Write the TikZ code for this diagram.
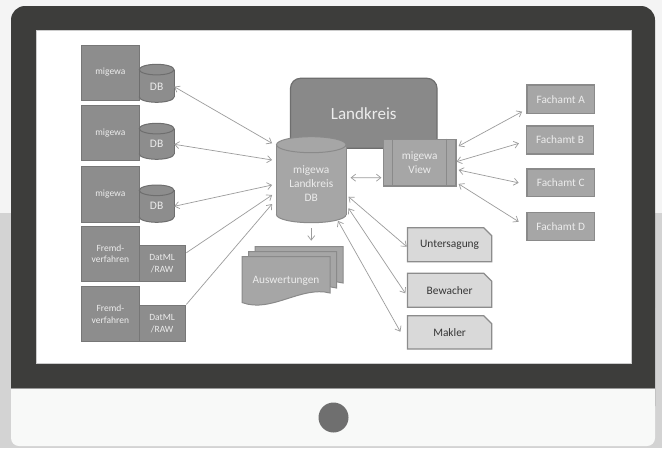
\documentclass[tikz,border=0pt]{standalone}
\usepackage{fontspec}
\setmainfont{Carlito}
\usetikzlibrary{arrows.meta,calc,shapes.misc}

\definecolor{bgtop}{HTML}{F4F4F4}
\definecolor{bgbot}{HTML}{D3D3D3}
\definecolor{frame}{HTML}{3D3D3B}
\definecolor{chin}{HTML}{F8F9F8}
\definecolor{dot}{HTML}{6F6F6F}
\definecolor{darkfill}{HTML}{8D8D8D}
\definecolor{darkbd}{HTML}{777777}
\definecolor{cylbd}{HTML}{6E6E6E}
\definecolor{midfill}{HTML}{A6A6A6}
\definecolor{midbd}{HTML}{8A8A8A}
\definecolor{lkfill}{HTML}{898989}
\definecolor{lkbd}{HTML}{6E6E6E}
\definecolor{snipfill}{HTML}{D9D9D9}
\definecolor{snipbd}{HTML}{8C8C8C}
\definecolor{lighttxt}{HTML}{ECECEC}
\definecolor{darktxt}{HTML}{363636}
\definecolor{linec}{HTML}{9C9C9C}

\newcommand\mycyl[7]{%
  \filldraw[fill=#6,draw=#7,line width=1pt] (#1,#3-#5) ellipse [x radius=#4, y radius=#5];
  \fill[#6] (#1-#4,#2+#5) rectangle (#1+#4,#3-#5);
  \draw[#7,line width=1pt] (#1-#4,#2+#5) -- (#1-#4,#3-#5) (#1+#4,#2+#5) -- (#1+#4,#3-#5);
  \filldraw[fill=#6,draw=#7,line width=1pt] (#1,#2+#5) ellipse [x radius=#4, y radius=#5];
}
\newcommand\mydoc[2]{%
  \filldraw[fill=midfill,draw=midbd,line width=1pt] (#1,#2) -- (#1+88,#2) -- (#1+88,#2+36.5)
    .. controls (#1+59,#2+29) and (#1+29,#2+57) .. (#1,#2+46) -- cycle;
}

\tikzset{
  tip/.tip={Straight Barb[length=4.5pt,width=7pt]},
  arr/.style={draw=linec, line width=0.7pt, tip-tip},
  arrone/.style={draw=linec, line width=0.7pt, -tip},
  darkbox/.style={draw=darkbd, fill=darkfill, line width=1pt, text=lighttxt, align=center,
    inner sep=0pt, font=\fontsize{9.5}{11.6}\selectfont},
  midbox/.style={draw=midbd, fill=midfill, line width=1.2pt, text=lighttxt, align=center,
    inner sep=0pt, font=\fontsize{11.3}{14}\selectfont},
  snipbox/.style={chamfered rectangle, chamfered rectangle corners=north east,
    chamfered rectangle xsep=4pt, chamfered rectangle ysep=4pt, draw=snipbd, fill=snipfill,
    line width=1.2pt, text=darktxt, inner sep=0pt, minimum width=84.4, minimum height=34,
    font=\fontsize{11.4}{13}\selectfont},
  txt/.style={inner sep=0pt, align=center, text=lighttxt},
}

\begin{document}
\begin{tikzpicture}[x=1pt,y=-1pt]
\useasboundingbox (0,0) rectangle (662,448);
% background
\fill[bgtop] (0,0) rectangle (662,213);
\fill[bgbot] (0,213) rectangle (662,448);
% monitor
\fill[chin, rounded corners=8pt] (11,300) rectangle (655,446);
\fill[frame, rounded corners=14pt] (11,6) rectangle (655,420);
\fill[chin] (11,388.5) rectangle (655,426);
\draw[draw=gray!80, line width=0.6pt] (11,388.5) -- (655,388.5);
\fill[dot] (333.5,417.5) circle [radius=15];
\draw[draw=black!20, fill=white, line width=0.6pt] (36,30) rectangle (631,363);

% left column
\node[darkbox, minimum width=57.8, minimum height=55] (mg1) at (110.4,72.5) {migewa};
\node[darkbox, minimum width=57.8, minimum height=55.7] (mg2) at (110.4,132.85) {migewa};
\node[darkbox, minimum width=57.8, minimum height=55.3] (mg3) at (110.4,194.35) {migewa};
\node[darkbox, minimum width=57.8, minimum height=55.7] (fr1) at (110.4,253.85) {Fremd-\\verfahren};
\node[darkbox, minimum width=57.8, minimum height=55] (fr2) at (110.4,314.2) {Fremd-\\verfahren};
\node[darkbox, minimum width=45.7, minimum height=36.7] (dm1) at (162.15,263.35) {DatML\\/RAW};
\node[darkbox, minimum width=45.7, minimum height=36.7] (dm2) at (162.15,323.35) {DatML\\/RAW};

\mycyl{156.65}{64.3}{102.3}{17.35}{5.3}{darkfill}{cylbd}
\mycyl{156.65}{123.3}{159.3}{17.35}{5.3}{darkfill}{cylbd}
\mycyl{156.65}{185}{222.3}{17.35}{5.3}{darkfill}{cylbd}
\node[txt, font=\fontsize{11.5}{13}\selectfont, minimum width=34.7] (db1) at (156.65,86.7) {DB};
\node[txt, font=\fontsize{11.5}{13}\selectfont, minimum width=34.7] (db2) at (156.65,144.3) {DB};
\node[txt, font=\fontsize{11.5}{13}\selectfont, minimum width=34.7] (db3) at (156.65,206.3) {DB};

% Landkreis
\node[draw=lkbd, fill=lkfill, line width=1.2pt, rounded corners=10pt, minimum width=146.5,
  minimum height=70, text=lighttxt, font=\fontsize{17}{20}\selectfont] (lk) at (363.75,113.3) {Landkreis};

% central DB
\mycyl{311.25}{136.7}{222.7}{34.75}{8}{midfill}{midbd}
\node[txt, font=\fontsize{11.4}{13.8}\selectfont, minimum width=69.5, minimum height=86] (cdb) at (311.25,183.8) {migewa\\Landkreis\\DB};

% view
\node[midbox, minimum width=72.6, minimum height=46.7] (view) at (419.7,162.65) {migewa\\View};
\draw[midbd, line width=1pt] ($(view.north west)+(9.2,0)$) -- ($(view.south west)+(9.2,0)$);
\draw[midbd, line width=1pt] ($(view.north east)+(-10,0)$) -- ($(view.south east)+(-10,0)$);

% Fachamt
\node[midbox, minimum width=67.5, minimum height=28.3] (fa) at (560.75,99.15) {Fachamt A};
\node[midbox, minimum width=67.5, minimum height=28] (fb) at (560,140) {Fachamt B};
\node[midbox, minimum width=67.5, minimum height=27.7] (fc) at (560.75,182.85) {Fachamt C};
\node[midbox, minimum width=67.5, minimum height=28.4] (fd) at (560.75,226.5) {Fachamt D};

% snipped boxes
\node[snipbox] (unt) at (449.6,244.7) {Untersagung};
\node[snipbox] (bew) at (449.6,290.3) {Bewacher};
\node[snipbox, minimum height=33.3] (mak) at (449.6,332.35) {Makler};

% Auswertungen
\mydoc{255}{246.5}
\mydoc{248.5}{251.5}
\mydoc{242}{256.5}
\node[txt, font=\fontsize{11.3}{13}\selectfont] (ausw) at (286,280.7) {Auswertungen};
\coordinate (auswtop) at (311.25,240.7);

% connectors
\draw[arr] (db1.east) -- ($(cdb.west)+(-4.2,-40.5)$);
\draw[arr] (db2.east) -- ($(cdb.west)+(-4.2,-23.8)$);
\draw[arr] (db3.east) -- ($(cdb.west)+(-4.2,1.2)$);
\draw[arrone] ($(dm1.north east)+(0.8,8.3)$) -- ($(cdb.west)+(-4.2,11.2)$);
\draw[arrone] ($(dm2.north east)+(0.8,0)$) -- ($(cdb.west)+(-4.2,20.2)$);
\draw[arrone] ($(cdb.south)+(0,1.2)$) -- (auswtop);
\draw[arr] ($(cdb.east)+(4.4,-6.1)$) -- ($(view.west)+(-1.4,15)$);
\draw[arr] ($(view.north east)+(2,7.4)$) -- ($(fa.south west)+(-4.3,-2.3)$);
\draw[arr] ($(view.east)+(0,-1)$) -- ($(fb.west)+(-6.7,3.3)$);
\draw[arr] ($(view.east)+(2,7.35)$) -- ($(fc.west)+(-7.7,0)$);
\draw[arr] ($(view.south east)+(2,-2.7)$) -- ($(fd.west)+(-7.7,-4.8)$);
\draw[arr] ($(cdb.east)+(2.3,12.9)$) -- ($(unt.west)+(0,2)$);
\draw[arr] ($(cdb.east)+(2.3,24.5)$) -- ($(bew.west)+(-1.4,3)$);
\draw[arr] ($(cdb.south east)+(-8.2,-6.1)$) -- ($(mak.west)+(-6.4,-0.6)$);
\end{tikzpicture}
\end{document}
